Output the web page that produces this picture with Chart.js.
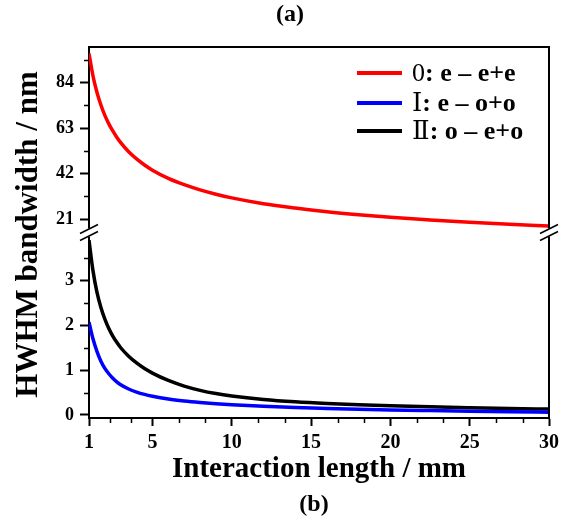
<!DOCTYPE html>
<html>
<head>
<meta charset="utf-8">
<script src="https://cdn.jsdelivr.net/npm/chart.js@4.4.0/dist/chart.umd.min.js"></script>
<style>
  html, body { margin: 0; padding: 0; background: #fff; }
</style>
</head>
<body>
<canvas id="c" width="565" height="517"></canvas>
<script>
// interaction length (mm)
var lengths = [1, 1.25, 1.5, 1.75, 2, 2.25, 2.5, 2.75, 3, 3.5, 4, 4.5, 5, 6, 7, 8, 9, 10, 12, 14, 16, 18, 20, 22.5, 25, 27.5, 30];
// HWHM bandwidth (nm) for each phase matching type
var typeZero = [97.5, 87.2, 79.6, 73.7, 68.9, 65.0, 61.7, 58.8, 56.3, 52.1, 48.8, 46.0, 43.6, 39.8, 36.9, 34.5, 32.5, 30.8, 28.1, 26.1, 24.4, 23.0, 21.8, 20.6, 19.5, 18.6, 17.8];
var typeOne  = [2.07, 1.70, 1.42, 1.2, 1.04, 0.92, 0.82, 0.74, 0.675, 0.58, 0.512, 0.46, 0.42, 0.358, 0.314, 0.28, 0.252, 0.23, 0.193, 0.166, 0.146, 0.128, 0.113, 0.098, 0.084, 0.072, 0.062];
var typeTwo  = [3.9, 3.22, 2.74, 2.4, 2.14, 1.93, 1.76, 1.62, 1.5, 1.31, 1.16, 1.035, 0.935, 0.77, 0.645, 0.55, 0.478, 0.425, 0.348, 0.295, 0.257, 0.228, 0.205, 0.182, 0.163, 0.146, 0.132];

var seriesPrefix = ['0', 'Ⅰ', 'Ⅱ'];
var seriesText = [': e – e+e', ': e – o+o', ': o – e+o'];
var seriesColors = ['#ff0000', '#0000ff', '#000000'];

var xTicks = [1, 5, 10, 15, 20, 25, 30];
var yTopTicks = [21, 42, 63, 84];
var yLowTicks = [0, 1, 2, 3];

var serif = "'Liberation Serif', 'Times New Roman', 'DejaVu Serif', serif";

function pts(ys) {
  return lengths.map(function(x, i) { return {x: x, y: ys[i]}; });
}

// minor ticks: each major interval split in 3 on x, in 2 on y
var xMinor = [];
for (var i = 0; i < xTicks.length - 1; i++) {
  var step = (xTicks[i + 1] - xTicks[i]) / 3;
  xMinor.push(xTicks[i] + step, xTicks[i] + 2 * step);
}
var yTopMinor = [31.5, 52.5, 73.5, 94.5];
var yLowMinor = [0.5, 1.5, 2.5, 3.5];

var decor = {
  id: 'decor',
  afterDraw: function(chart) {
    var ctx = chart.ctx;
    var a = chart.chartArea;
    var sx = chart.scales.x, yt = chart.scales.yTop, yl = chart.scales.yLow;
    ctx.save();
    ctx.strokeStyle = '#000';
    ctx.lineWidth = 2;
    // top and right frame
    ctx.beginPath();
    ctx.moveTo(a.left - 1, a.top);
    ctx.lineTo(a.right, a.top);
    ctx.lineTo(a.right, a.bottom);
    ctx.stroke();

    // minor ticks
    ctx.lineWidth = 1.5;
    ctx.beginPath();
    xMinor.forEach(function(v) {
      var p = Math.round(sx.getPixelForValue(v)) + 0.5;
      ctx.moveTo(p, a.bottom); ctx.lineTo(p, a.bottom + 5);
    });
    yTopMinor.forEach(function(v) {
      var p = Math.round(yt.getPixelForValue(v)) + 0.5;
      ctx.moveTo(a.left, p); ctx.lineTo(a.left - 5, p);
    });
    yLowMinor.forEach(function(v) {
      var p = Math.round(yl.getPixelForValue(v)) + 0.5;
      ctx.moveTo(a.left, p); ctx.lineTo(a.left - 5, p);
    });
    ctx.stroke();

    // axis break marks
    var by = yt.bottom;
    [a.left, a.right].forEach(function(x) {
      ctx.fillStyle = '#fff';
      ctx.fillRect(x - 3, by - 4, 6, 8);
      ctx.strokeStyle = '#000';
      ctx.lineWidth = 1.5;
      ctx.beginPath();
      ctx.moveTo(x - 9, by + 1); ctx.lineTo(x + 9, by - 8);
      ctx.moveTo(x - 9, by + 8); ctx.lineTo(x + 9, by - 1);
      ctx.stroke();
    });

    // legend
    var rows = [73, 103, 131];
    chart.data.datasets.forEach(function(ds, k) {
      var y = rows[k];
      ctx.strokeStyle = ds.borderColor;
      ctx.lineWidth = 4;
      ctx.beginPath();
      ctx.moveTo(357, y); ctx.lineTo(402, y);
      ctx.stroke();
      ctx.fillStyle = '#000';
      ctx.textBaseline = 'middle';
      ctx.textAlign = 'left';
      ctx.font = '26px ' + serif;
      ctx.fillText(seriesPrefix[k], 412, y + 1);
      var w = ctx.measureText(seriesPrefix[k]).width;
      ctx.font = 'bold 26px ' + serif;
      ctx.fillText(seriesText[k], 412 + w, y + 1);
    });

    // y title spanning both panels
    ctx.fillStyle = '#000';
    ctx.font = 'bold 31px ' + serif;
    ctx.textAlign = 'center';
    ctx.textBaseline = 'middle';
    ctx.translate(29, (a.top + a.bottom) / 2 + 2);
    ctx.rotate(-Math.PI / 2);
    ctx.fillText('HWHM bandwidth / nm', 0, 0);
    ctx.setTransform(1, 0, 0, 1, 0, 0);

    // panel labels
    ctx.font = 'bold 24px ' + serif;
    ctx.fillText('(a)', 290, 15);
    ctx.fillText('(b)', 314, 505);
    ctx.restore();
  }
};

function yAxis(min, max, ticks) {
  return {
    type: 'linear',
    position: 'left',
    stack: 'panels',
    stackWeight: 1,
    min: min,
    max: max,
    afterBuildTicks: function(s) { s.ticks = ticks.map(function(v) { return {value: v}; }); },
    afterFit: function(s) { s.width = 89; },
    grid: { drawOnChartArea: false, tickLength: 9, tickWidth: 2, tickColor: '#000' },
    border: { display: true, color: '#000', width: 2 },
    ticks: { color: '#000', padding: 6, font: { family: serif, size: 18, weight: 'bold' } }
  };
}

new Chart(document.getElementById('c').getContext('2d'), {
  type: 'line',
  data: {
    datasets: [
      { label: seriesPrefix[0] + seriesText[0], data: pts(typeZero), yAxisID: 'yTop', borderColor: seriesColors[0] },
      { label: seriesPrefix[1] + seriesText[1], data: pts(typeOne), yAxisID: 'yLow', borderColor: seriesColors[1] },
      { label: seriesPrefix[2] + seriesText[2], data: pts(typeTwo), yAxisID: 'yLow', borderColor: seriesColors[2] }
    ]
  },
  options: {
    responsive: false,
    animation: false,
    devicePixelRatio: 1,
    layout: { padding: { top: 47, right: 16, left: 0, bottom: 0 } },
    elements: {
      point: { radius: 0 },
      line: { borderWidth: 3.5, cubicInterpolationMode: 'monotone', fill: false }
    },
    plugins: { legend: { display: false }, tooltip: { enabled: false } },
    scales: {
      x: {
        type: 'linear',
        min: 1,
        max: 30,
        afterBuildTicks: function(s) { s.ticks = xTicks.map(function(v) { return {value: v}; }); },
        afterFit: function(s) { s.height = 99; },
        grid: { drawOnChartArea: false, tickLength: 8, tickWidth: 2, tickColor: '#000' },
        border: { display: true, color: '#000', width: 2 },
        ticks: { color: '#000', padding: 5, autoSkip: false, maxRotation: 0, font: { family: serif, size: 20, weight: 'bold' } },
        title: { display: true, text: 'Interaction length / mm', color: '#000', padding: { top: 0, bottom: 30 }, font: { family: serif, size: 29, weight: 'bold' } }
      },
      yLow: yAxis(-0.067, 4.07, yLowTicks),
      yTop: yAxis(14.8, 100.5, yTopTicks)
    }
  },
  plugins: [decor]
});
</script>
</body>
</html>
